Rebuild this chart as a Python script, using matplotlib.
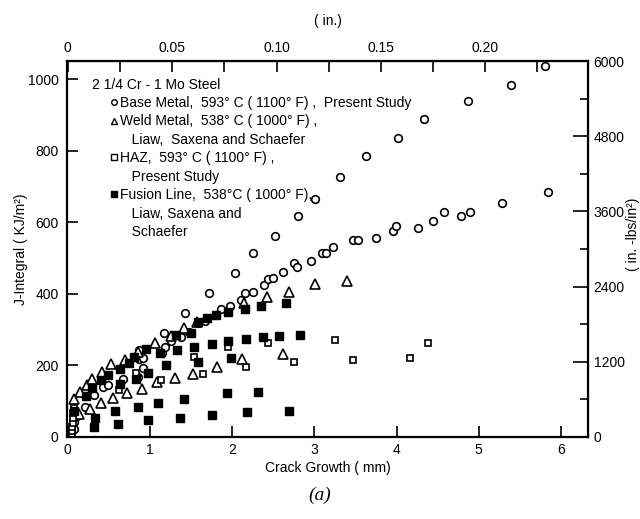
import numpy as np
import matplotlib.pyplot as plt
from matplotlib.lines import Line2D

plt.rcParams['font.family'] = ['Liberation Sans', 'DejaVu Sans']
plt.rcParams['font.size'] = 10

# DATOS (crecimiento de grieta en mm, integral J en kJ/m^2)
base_x = [0.07, 0.08, 0.11, 0.21, 0.32, 0.43, 0.49, 0.67, 0.86, 0.87, 0.92, 0.92, 0.87,
          1.15, 1.18, 1.26, 1.38, 1.47, 1.59, 1.67, 1.80, 1.87, 1.97, 2.11, 2.15, 2.25,
          2.39, 2.43, 2.50, 2.62, 2.75, 2.79, 2.96, 3.09, 3.14, 3.23, 3.47, 3.53, 3.75,
          3.96, 3.99, 4.26, 4.44, 4.58, 4.79, 4.90, 5.28, 5.84,
          1.165, 1.42, 1.72, 2.03, 2.25, 2.52, 2.80, 3.01, 3.31, 3.63, 4.02, 4.33,
          4.87, 5.39, 5.81]
base_y = [23, 42, 59, 85, 118, 141, 144, 163, 169, 217, 192, 220, 242,
          234, 251, 268, 279, 293, 318, 324, 341, 358, 366, 383, 403, 406,
          425, 442, 445, 462, 485, 476, 493, 515, 513, 530, 552, 552, 555,
          577, 589, 583, 603, 628, 617, 628, 654, 685,
          290, 346, 403, 459, 513, 563, 617, 665, 727, 786, 837, 890,
          938, 983, 1037]

weld_x = [0.07, 0.15, 0.23, 0.30, 0.42, 0.53, 0.70, 0.85, 1.06, 1.25, 1.41, 1.57,
          2.14, 2.42, 2.69, 3.01, 3.40,
          0.13, 0.27, 0.40, 0.55, 0.72, 0.90, 1.09, 1.30, 1.52, 1.81, 2.12, 2.62]
weld_y = [107, 127, 144, 161, 183, 203, 214, 237, 262, 282, 304, 321,
          375, 392, 406, 428, 437,
          65, 79, 96, 110, 124, 135, 155, 166, 177, 197, 217, 231]

haz_x = [0.05, 0.05, 0.05, 0.06, 0.06, 0.06, 0.07, 0.62, 0.83, 1.13, 1.54, 1.64,
         1.95, 2.17, 2.43, 2.75, 3.25, 3.47, 4.17, 4.38]
haz_y = [8, 17, 28, 39, 54, 68, 82, 132, 180, 158, 223, 175,
         251, 197, 262, 211, 270, 214, 220, 262]

fusion_x = [0.07, 0.22, 0.29, 0.40, 0.49, 0.64, 0.75, 0.81, 0.95, 1.12, 1.32, 1.50,
            1.58, 1.69, 1.80, 1.95, 2.15, 2.35, 2.66,
            0.63, 0.83, 0.98, 1.20, 1.33, 1.53, 1.58, 1.75, 1.95, 1.98, 2.17, 2.37,
            2.57, 2.82,
            0.32, 0.33, 0.58, 0.61, 0.86, 0.98, 1.10, 1.37, 1.41, 1.76, 1.94, 2.18,
            2.32, 2.69]
fusion_y = [73, 115, 138, 158, 172, 189, 206, 223, 245, 234, 285, 290,
            321, 332, 341, 349, 358, 366, 375,
            149, 163, 180, 200, 242, 251, 211, 259, 268, 220, 273, 279,
            282, 285,
            28, 54, 73, 37, 85, 48, 96, 54, 107, 62, 124, 70,
            127, 73]

KJ_A_INLB = 5.71  # 1 kJ/m^2 = 5.71 in.-lbs/in^2

fig = plt.figure(figsize=(6.4, 5.19), dpi=100)
ax = fig.add_axes([67 / 640, 1 - 437 / 519, 521 / 640, 376 / 519])

ax.plot(base_x, base_y, 'o', mfc='white', mec='black', ms=5.5, mew=1.2, ls='none')
ax.plot(weld_x, weld_y, '^', mfc='white', mec='black', ms=6.5, mew=1.2, ls='none')
ax.plot(haz_x, haz_y, 's', mfc='white', mec='black', ms=5, mew=1.2, ls='none')
ax.plot(fusion_x, fusion_y, 's', mfc='black', mec='black', ms=5.5, ls='none')

ax.set_xlim(-0.01, 6.33)
ax.set_ylim(0, 1051)
ax.set_xticks([0, 1, 2, 3, 4, 5, 6])
ax.set_yticks([0, 200, 400, 600, 800, 1000])
ax.tick_params(direction='in', length=8, width=1.2, pad=4)
ax.tick_params(axis='y', pad=6)
for s in ax.spines.values():
    s.set_linewidth(1.6)

ax.set_xlabel('Crack Growth ( mm)', labelpad=3)
ax.set_ylabel('J-Integral ( KJ/m²)')
ax.yaxis.set_label_coords(-0.075, 0.5)

# eje superior en pulgadas
top = ax.secondary_xaxis('top', functions=(lambda x: x / 25.4, lambda x: x * 25.4))
top.set_xticks([0, 0.05, 0.10, 0.15, 0.20, 0.25])
top.set_xticklabels(['0', '0.05', '0.10', '0.15', '0.20', '0.25'])
top.set_xticks(np.arange(0, 0.26, 0.025), minor=True)
top.tick_params(which='both', direction='in', length=8, width=1.2, pad=4)
top.set_xlabel('( in.)', labelpad=12)

# eje derecho en in.-lbs/in^2
right = ax.secondary_yaxis('right', functions=(lambda y: y * KJ_A_INLB,
                                               lambda y: y / KJ_A_INLB))
right.set_yticks([0, 1200, 2400, 3600, 4800, 6000])
right.set_yticks(np.arange(0, 6001, 600), minor=True)
right.tick_params(which='major', direction='in', length=11, width=1.2, pad=4)
right.tick_params(which='minor', direction='in', length=6, width=1.2)
fig.text(633 / 640, 1 - 234 / 519, '( in. -lbs/in²)', rotation=90,
         ha='center', va='center')

# leyenda
ax.text(0.048, 0.937, '2 1/4 Cr - 1 Mo Steel', transform=ax.transAxes,
        ha='left', va='center')
handles = [
    Line2D([], [], marker='o', mfc='white', mec='black', ms=4, mew=1, ls='none'),
    Line2D([], [], marker='^', mfc='white', mec='black', ms=5, mew=1, ls='none'),
    Line2D([], [], ls='none'),
    Line2D([], [], marker='s', mfc='white', mec='black', ms=4, mew=1, ls='none'),
    Line2D([], [], ls='none'),
    Line2D([], [], marker='s', mfc='black', mec='black', ms=4, ls='none'),
    Line2D([], [], ls='none'),
    Line2D([], [], ls='none'),
]
labels = [
    'Base Metal,  593° C ( 1100° F) ,  Present Study',
    'Weld Metal,  538° C ( 1000° F) ,',
    '   Liaw,  Saxena and Schaefer',
    'HAZ,  593° C ( 1100° F) ,',
    '   Present Study',
    'Fusion Line,  538°C ( 1000° F),',
    '   Liaw, Saxena and',
    '   Schaefer',
]
ax.legend(handles, labels, loc='upper left', bbox_to_anchor=(0.085, 0.907),
          frameon=False, handlelength=0.4, handletextpad=0.25,
          labelspacing=0.32, borderpad=0, borderaxespad=0)

fig.text(0.5, 1 - 495 / 519, '(a)', ha='center', va='center',
         family='Liberation Serif', style='italic', fontsize=14)

fig.savefig('out.png', dpi=100)
plt.close('all')
